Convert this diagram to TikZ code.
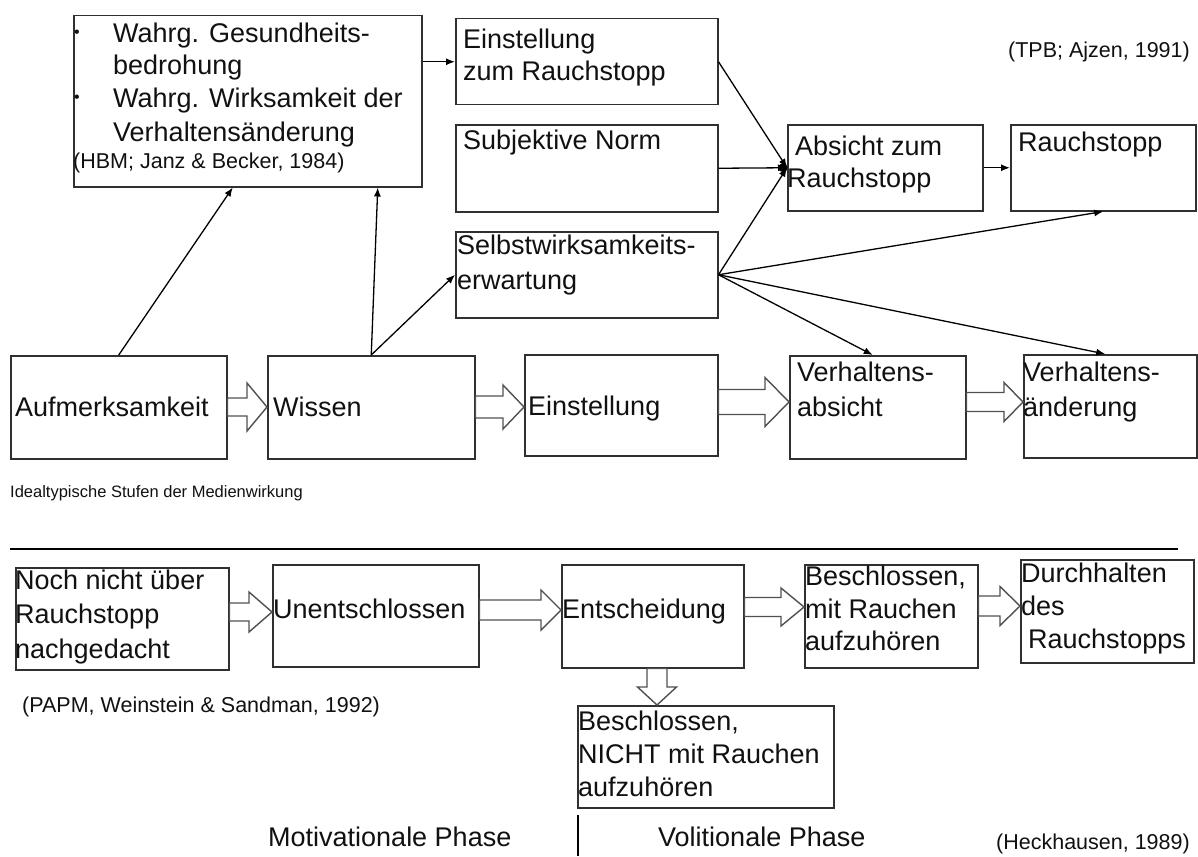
\documentclass[tikz,border=0pt]{standalone}
\usepackage{fontspec}
\setmainfont{Liberation Sans}
\usetikzlibrary{arrows.meta,calc}
\definecolor{boxc}{HTML}{303030}
\definecolor{blkc}{HTML}{505050}
\definecolor{txtc}{HTML}{111111}
\newcommand\fmain{\fontsize{27}{33}\selectfont}
\newcommand\fcite{\fontsize{21.5}{26}\selectfont}
\newcommand\fsmall{\fontsize{16.5}{20}\selectfont}
% box: name, x0, y0, x1, y1 (pixel coordinates, y downwards)
\newcommand\bx[5]{\node[box,minimum width={#4pt-#2pt},minimum height={#5pt-#3pt}] (#1) at (#2,#3) {};}
% text line: name, x, baseline y, text
\newcommand\tl[4]{\node[txt] (#1) at (#2,#3) {#4};}
% horizontal block arrow: from, to, y, shaft half, head half, head length
\newcommand\harr[6]{\draw[blk] let \p1=(#1.east), \p2=(#2.west) in
  (\x1,{-#3pt+#4pt}) -- ({\x2-#6pt},{-#3pt+#4pt}) -- ({\x2-#6pt},{-#3pt+#5pt}) -- (\x2,{-#3pt})
  -- ({\x2-#6pt},{-#3pt-#5pt}) -- ({\x2-#6pt},{-#3pt-#4pt}) -- (\x1,{-#3pt-#4pt}) -- cycle;}
% vertical block arrow: from, to, x, shaft half, head half, head length
\newcommand\varr[6]{\draw[blk] let \p1=(#1.south), \p2=(#2.north) in
  ({#3pt-#4pt},\y1) -- ({#3pt-#4pt},{\y2+#6pt}) -- ({#3pt-#5pt},{\y2+#6pt}) -- ({#3pt},\y2)
  -- ({#3pt+#5pt},{\y2+#6pt}) -- ({#3pt+#4pt},{\y2+#6pt}) -- ({#3pt+#4pt},\y1) -- cycle;}
\begin{document}
\begin{tikzpicture}[x=1pt,y=-1pt,
  box/.style={draw=boxc,line width=1.5pt,inner sep=0pt,anchor=north west,fill=white},
  txt/.style={anchor=base west,inner sep=0pt,font=\fmain,text=txtc},
  cite/.style={txt,font=\fcite},
  bullet/.style={inner sep=0pt,font=\fontsize{16}{16}\selectfont,text=txtc},
  arr/.style={-{Latex[length=9pt,width=7pt]},line width=1.3pt,black},
  blk/.style={draw=blkc,line width=1.4pt,fill=white,line join=miter},
  rule/.style={line width=1.4pt,black}]
\useasboundingbox (0,0) rectangle (1198,856);
\fill[white] (0,0) rectangle (1198,856);

% ---- top section boxes
\bx{hbm}{73}{15}{421}{186}
\bx{ezr}{455}{18}{717}{104}
\bx{sn}{455}{124}{717}{211}
\bx{swe}{455}{231}{717}{317}
\bx{azr}{787}{124}{982}{210}
\bx{rs}{1010}{124}{1195}{210}
% ---- middle row
\bx{auf}{10}{355}{226}{458}
\bx{wis}{267}{355}{474}{458}
\bx{ein}{524}{354}{717}{455}
\bx{va}{789}{355}{965}{458}
\bx{vae}{1023}{354}{1196}{457}
% ---- bottom row
\bx{noch}{15}{567}{228}{669}
\bx{unent}{272}{564}{478}{666}
\bx{ent}{561}{564}{743}{667}
\bx{besch}{804}{564}{977}{667}
\bx{durch}{1020}{559}{1193}{662}
\bx{nicht}{577}{705}{833}{807}

% ---- texts top
\node[bullet] (bu1) at (77,34) {•};
\node[bullet] (bu2) at (77,99) {•};
\tl{h1}{113}{43}{Wahrg. Gesundheits-}
\tl{h2}{113}{75}{bedrohung}
\tl{h3}{113}{108}{Wahrg. Wirksamkeit der}
\tl{h4}{113}{141}{Verhaltensänderung}
\node[cite] (h5) at (73,168) {(HBM; Janz \& Becker, 1984)};
\tl{e1}{463}{49}{Einstellung}
\tl{e2}{463}{81}{zum Rauchstopp}
\tl{s1}{463}{149}{Subjektive Norm}
\tl{w1}{457}{254}{Selbstwirksamkeits-}
\tl{w2}{457}{289}{erwartung}
\tl{a1}{795}{155}{Absicht zum}
\tl{a2}{787}{187}{Rauchstopp}
\tl{r1}{1018}{151}{Rauchstopp}
\node[cite,anchor=base east] (tpb) at (1190,58) {(TPB; Ajzen, 1991)};

% ---- texts middle
\tl{m1}{15}{416}{Aufmerksamkeit}
\tl{m2}{273}{416}{Wissen}
\tl{m3}{528}{415}{Einstellung}
\tl{m4}{797}{381}{Verhaltens-}
\tl{m5}{797}{416}{absicht}
\tl{m6}{1023}{381}{Verhaltens-}
\tl{m7}{1023}{416}{änderung}
\node[txt,font=\fsmall] (ideal) at (10,497) {Idealtypische Stufen der Medienwirkung};

% ---- texts bottom
\tl{n1}{15}{589}{Noch nicht über}
\tl{n2}{15}{623}{Rauchstopp}
\tl{n3}{15}{658}{nachgedacht}
\tl{u1}{273}{618}{Unentschlossen}
\tl{d1}{562}{618}{Entscheidung}
\tl{b1}{805}{585}{Beschlossen,}
\tl{b2}{805}{618}{mit Rauchen}
\tl{b3}{805}{650}{aufzuhören}
\tl{c1}{1021}{582}{Durchhalten}
\tl{c2}{1021}{615}{des}
\tl{c3}{1028}{648}{Rauchstopps}
\tl{k1}{578}{730}{Beschlossen,}
\tl{k2}{578}{763}{NICHT mit Rauchen}
\tl{k3}{578}{796}{aufzuhören}
\node[cite] (papm) at (22,712) {(PAPM, Weinstein \& Sandman, 1992)};
\tl{mot}{268}{846}{Motivationale Phase}
\tl{vol}{658}{846}{Volitionale Phase}
\node[cite,anchor=base east] (heck) at (1190,849) {(Heckhausen, 1989)};

% ---- rules
\coordinate (rl) at (10,549);
\coordinate (rr) at (1178,549);
\draw[rule] (rl) -- (rr);
\coordinate (vt) at (578,815);
\coordinate (vb) at (578,856);
\draw[line width=1.3pt,black] (vt) -- (vb);

% ---- thin arrows
\draw[arr] (hbm.east |- ezr.west) -- (ezr.west);
\draw[arr] (auf.north) -- ([xshift=-15pt]hbm.south);
\draw[arr] (wis.north) -- ([xshift=130pt]hbm.south);
\draw[arr] (wis.north) -- (swe.west);
\draw[arr] (ezr.east) -- (azr.west);
\draw[arr] (sn.east) -- (azr.west);
\draw[arr] (swe.east) -- (azr.west);
\fill[black] ([xshift=-4pt]azr.west) circle (4.5pt);
\draw[arr] (azr.east) -- (rs.west);
\draw[arr] (swe.east) -- (rs.south);
\draw[arr] (swe.east) -- ([xshift=-5pt]va.north);
\draw[arr] (swe.east) -- ([xshift=-5pt]vae.north);

% ---- block arrows
\harr{auf}{wis}{407}{9}{24}{20}
\harr{wis}{ein}{407}{11}{22}{21}
\harr{ein}{va}{402}{12.5}{24.5}{24}
\harr{va}{vae}{402}{9.5}{19.5}{19}
\harr{noch}{unent}{612}{9}{20}{23}
\harr{unent}{ent}{610}{10}{20}{20}
\harr{ent}{besch}{607}{9.5}{19}{23}
\harr{besch}{durch}{606}{10}{19.5}{20}
\varr{ent}{nicht}{657}{10}{19.5}{18}
\end{tikzpicture}
\end{document}
